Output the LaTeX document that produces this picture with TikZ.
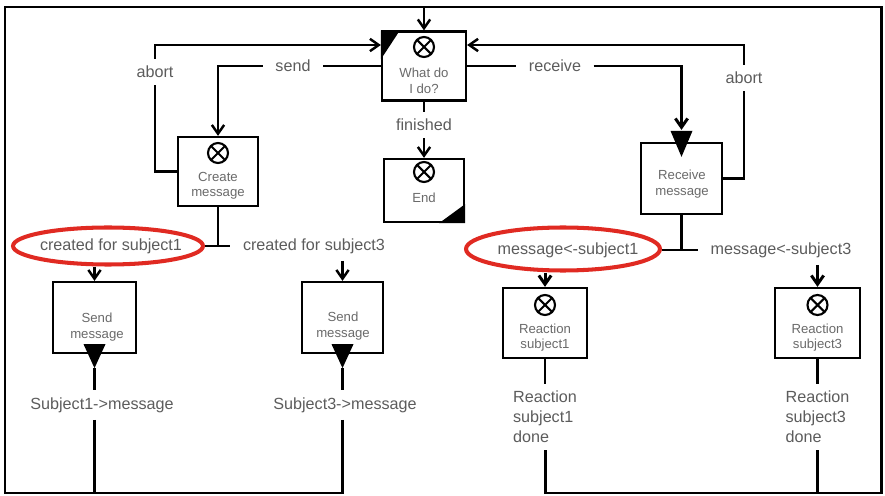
\documentclass[tikz,border=0pt]{standalone}
\usepackage{fontspec}
\setmainfont{Liberation Sans}
\usetikzlibrary{arrows.meta,shapes.geometric,positioning,calc}
\definecolor{lblgray}{HTML}{5C5C5C}
\definecolor{txtgray}{HTML}{6A6A6A}
\definecolor{ovalred}{HTML}{E02A22}

\begin{document}
\begin{tikzpicture}[
        x=0.02cm, y=-0.02cm,
        box/.style={rectangle, draw, line width=1.3pt, inner sep=0pt, minimum width=1.64cm, minimum height=1.4cm},
        boxtxt/.style={font=\fontsize{7.5}{8.8}\selectfont, text=txtgray, align=center, inner sep=0pt},
        lbl/.style={font=\fontsize{9.2}{11.3}\selectfont, text=lblgray, inner xsep=7pt, inner ysep=4pt},
        xor/.style={circle, draw, line width=1.2pt, minimum size=0.4cm, inner sep=0pt,
            path picture={\draw[line width=1.2pt] (path picture bounding box.north west) -- (path picture bounding box.south east)
                (path picture bounding box.north east) -- (path picture bounding box.south west);}},
        oval/.style={ellipse, draw=ovalred, line width=2.3pt, inner sep=0pt},
        flow/.style={line width=1.4pt},
        heavy/.style={line width=1.7pt},
        arrow/.style={-{Straight Barb[length=5pt, width=7pt]}},
    ]
    \useasboundingbox (0,0) rectangle (885,496);

    % frame corners
    \coordinate (fnw) at (5,7);
    \coordinate (fne) at (881,7);
    \coordinate (fsw) at (5,493);
    \coordinate (fse) at (881,493);

    % decision and end
    \node[box, minimum width=1.68cm, minimum height=1.38cm] (what) at (424,66) {};
    \node[xor] (whatx) at (424,47) {};
    \node[boxtxt] (whatt) at (424,81) {What do\\I do?};
    \fill (what.north west) -- ++(19,0) -- ++(-19,29) -- cycle;

    \node[lbl] (fin) at (424,125) {finished};
    \node[box, minimum width=1.6cm, minimum height=1.26cm] (end) at (424,190.5) {};
    \node[xor] (endx) at (424,172) {};
    \node[boxtxt] (endt) at (424,198) {End};
    \fill (end.south east) -- ++(0,-19) -- ++(-26,19) -- cycle;

    % send side
    \node[lbl] (snd) at (293,66) {send};
    \node[lbl] (abl) at (155,72) {abort};
    \node[box, minimum width=1.6cm, minimum height=1.38cm] (create) at (218,171.5) {};
    \node[xor] (createx) at (218,153) {};
    \node[boxtxt] (createt) at (218,186) {Create\\message};

    \node[lbl] (c1) at (111,246) {created for subject1};
    \node[oval, minimum width=3.8cm, minimum height=0.74cm] (o1) at (108,246) {};
    \node[lbl] (c3) at (314,246) {created for subject3};

    \node[box, minimum width=1.66cm, minimum height=1.42cm] (send1) at (94.5,317.5) {};
    \node[boxtxt] (send1t) at (97,327) {Send\\message};
    \node[box, minimum width=1.62cm, minimum height=1.42cm] (send3) at (342.5,317.5) {};
    \node[boxtxt] (send3t) at (343,326) {Send\\message};
    \node[lbl] (s1) at (102,405) {Subject1->message};
    \node[lbl] (s3) at (345,405) {Subject3->message};

    % receive side
    \node[lbl] (rcv) at (555,66) {receive};
    \node[lbl] (abr) at (744,78) {abort};
    \node[box, minimum width=1.62cm, minimum height=1.42cm] (receive) at (681.5,178.5) {};
    \node[boxtxt] (receivet) at (682,184) {Receive\\message};

    \node[lbl] (m1) at (568,250) {message<-subject1};
    \node[oval, minimum width=3.88cm, minimum height=0.86cm] (o2) at (563,249) {};
    \node[lbl] (m3) at (781,250) {message<-subject3};

    \node[box, minimum width=1.68cm, minimum height=1.4cm] (react1) at (545,323) {};
    \node[xor] (react1x) at (545,305) {};
    \node[boxtxt] (react1t) at (545,337.5) {Reaction\\subject1};
    \node[box, minimum width=1.7cm, minimum height=1.4cm] (react3) at (817.5,323) {};
    \node[xor] (react3x) at (817.5,305) {};
    \node[boxtxt] (react3t) at (817.5,337.5) {Reaction\\subject3};
    \node[lbl, align=left] (d1) at (545,417) {Reaction\\subject1\\done};
    \node[lbl, align=left] (d3) at (817.5,417) {Reaction\\subject3\\done};

    % send symbols
    \fill ([shift={(-11,-10)}]send1.south) -- ++(22,0) -- ++(-11,24) coordinate (tip1) -- cycle;
    \fill ([shift={(-11,-10)}]send3.south) -- ++(22,0) -- ++(-11,24) coordinate (tip3) -- cycle;
    \fill ([shift={(-11,-11)}]receive.north) -- ++(22,0) -- ++(-11,26) -- cycle;

    % top connectors
    \draw[flow, arrow] (what.north |- fnw) -- (what.north);
    \draw[flow] (what.west) -- (snd.east);
    \draw[flow, arrow] (snd.west) -| (create.north);
    \draw[flow] (create.west) -| (abl.south);
    \draw[flow, arrow] (abl.north) |- ([yshift=0.42cm]what.west);
    \draw[heavy] (what.east) -- (rcv.west);
    \draw[heavy, arrow] (rcv.east) -| ([yshift=0.24cm]receive.north);
    \draw[flow] (receive.east) -| (abr.south);
    \draw[flow, arrow] (abr.north) |- ([yshift=0.42cm]what.east);
    \draw[flow] (what.south) -- (fin.north);
    \draw[flow, arrow] (fin.south) -- (end.north);

    % branches
    \coordinate (cjoin) at (create.south |- c1);
    \draw[flow] (create.south) -- (cjoin);
    \draw[flow] (o1.east |- cjoin) -- (c3.west);
    \draw[flow, arrow] (o1.south -| send1.north) -- (send1.north);
    \draw[flow, arrow] (c3.south -| send3.north) -- (send3.north);

    \coordinate (rjoin) at (receive.south |- m3);
    \draw[heavy] (receive.south) -- (rjoin);
    \draw[heavy] (o2.east |- rjoin) -- (m3.west);
    \draw[heavy, arrow] (o2.south -| react1.north) -- (react1.north);
    \draw[heavy, arrow] (m3.south -| react3.north) -- (react3.north);

    % outputs
    \draw[flow] (tip1) -- (tip1 |- s1.north);
    \draw[flow] (tip3) -- (tip3 |- s3.north);
    \draw[flow] (react1.south) -- (d1.north);
    \draw[flow] (react3.south) -- (d3.north);

    % return loops
    \draw[heavy] (tip1 |- s1.south) -- (tip1 |- fsw) -- (fsw) -- (fnw) -- (what.north |- fnw);
    \draw[heavy] (tip3 |- s3.south) -- (tip3 |- fsw) -- (tip1 |- fsw);
    \draw[heavy] (d1.south) -- (d1.south |- fse) -- (fse) -- (fne) -- (what.north |- fne);
    \draw[heavy] (d3.south) -- (d3.south |- fse);

\end{tikzpicture}
\end{document}
